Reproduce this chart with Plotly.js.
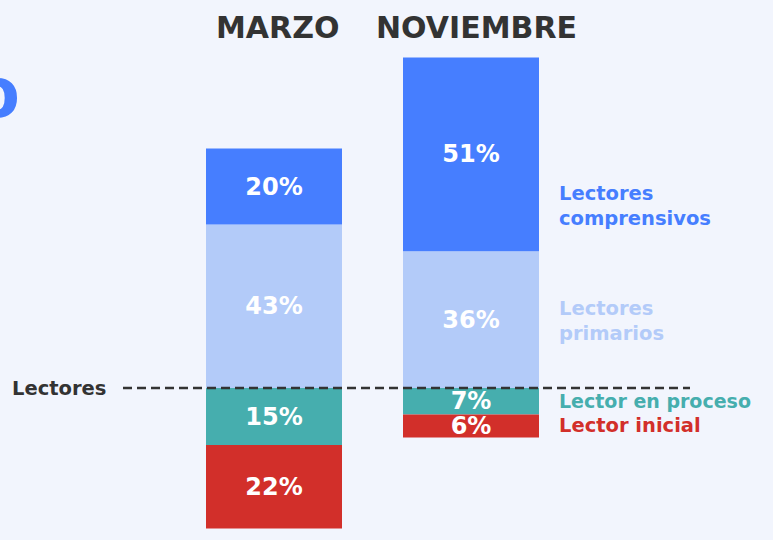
<!DOCTYPE html>
<html>
<head>
<meta charset="utf-8">
<script src="https://cdn.plot.ly/plotly-3.0.1.min.js"></script>
<style>
html,body{margin:0;padding:0;background:#f2f5fd;}
#chart{width:773px;height:540px;}
</style>
</head>
<body>
<div id="chart"></div>
<script>
// ---- data ----
const periods = ["MARZO", "NOVIEMBRE"];
const lectorEnProceso = [15, 7];      // below the "Lectores" line
const lectorInicial = [22, 6];        // below the "Lectores" line
const lectoresPrimarios = [43, 36];   // above the line
const lectoresComprensivos = [20, 51];// above the line
const seriesNames = ["Lector en proceso", "Lector inicial", "Lectores<br>primarios", "Lectores<br>comprensivos"];
const baselineLabel = "Lectores";

// ---- style ----
const W = 773, H = 540;
const FONT = "DejaVu Sans, sans-serif";
const colors = {
  proceso: "#46aeae",
  inicial: "#d22f2a",
  primarios: "#b3cbf9",
  comprensivos: "#467eff",
  dark: "#333333",
  bg: "#f2f5fd"
};
const baselinePx = 388, pxPerUnit = 3.8;
const yRange = [-(H - baselinePx) / pxPerUnit, baselinePx / pxPerUnit];
const cat0Px = 274, catStep = 197;
const xRange = [-cat0Px / catStep, (W - cat0Px) / catStep];
const barW = 136 / catStep;

const pct = arr => arr.map(v => v + "%");
function barTrace(vals, sign, color, name) {
  return {
    type: "bar",
    x: periods,
    y: vals.map(v => sign * v),
    name: name,
    width: periods.map(() => barW),
    marker: {color: color, line: {width: 0}},
    text: pct(vals),
    textposition: "inside",
    insidetextanchor: "middle",
    constraintext: "none",
    textangle: 0,
    textfont: {family: FONT, size: 24, color: "#ffffff", weight: "bold"},
    hoverinfo: "skip"
  };
}

const data = [
  barTrace(lectorEnProceso, -1, colors.proceso, seriesNames[0]),
  barTrace(lectorInicial, -1, colors.inicial, seriesNames[1]),
  barTrace(lectoresPrimarios, 1, colors.primarios, seriesNames[2]),
  barTrace(lectoresComprensivos, 1, colors.comprensivos, seriesNames[3])
];

const py = px => 1 - px / H;
const px2x = px => px / W;

const annotations = [
  // column headers
  {text: periods[0], x: periods[0], xref: "x", xshift: 3, y: py(27), yref: "paper", yanchor: "middle",
   showarrow: false, font: {family: FONT, size: 30, color: colors.dark, weight: "bold"}},
  {text: periods[1], x: periods[1], xref: "x", xshift: 5, y: py(27), yref: "paper", yanchor: "middle",
   showarrow: false, font: {family: FONT, size: 30, color: colors.dark, weight: "bold"}},
  // series labels on the right
  {text: seriesNames[3], x: px2x(557), xref: "paper", xanchor: "left", align: "left",
   y: py(206), yref: "paper", yanchor: "middle", showarrow: false,
   font: {family: FONT, size: 19.5, color: colors.comprensivos, weight: "bold"}},
  {text: seriesNames[2], x: px2x(557), xref: "paper", xanchor: "left", align: "left",
   y: py(321), yref: "paper", yanchor: "middle", showarrow: false,
   font: {family: FONT, size: 19.5, color: colors.primarios, weight: "bold"}},
  {text: seriesNames[0], x: px2x(557), xref: "paper", xanchor: "left", align: "left",
   y: py(401), yref: "paper", yanchor: "middle", showarrow: false,
   font: {family: FONT, size: 19, color: colors.proceso, weight: "bold"}},
  {text: seriesNames[1], x: px2x(557), xref: "paper", xanchor: "left", align: "left",
   y: py(425), yref: "paper", yanchor: "middle", showarrow: false,
   font: {family: FONT, size: 19.5, color: colors.inicial, weight: "bold"}},
  // baseline label
  {text: baselineLabel, x: px2x(10), xref: "paper", xanchor: "left",
   y: 0, yref: "y", yanchor: "middle", yshift: 0, showarrow: false,
   font: {family: FONT, size: 19.5, color: colors.dark, weight: "bold"}},
  // big cut-off percent sign at the left edge
  {text: "%", x: 0, xref: "paper", xanchor: "right", xshift: 22,
   y: py(82), yref: "paper", yanchor: "middle", showarrow: false,
   font: {family: FONT, size: 100, color: colors.comprensivos, weight: "bold"}}
];

const shapes = [
  {type: "line", xref: "paper", yref: "y", x0: px2x(123), x1: px2x(690), y0: 0, y1: 0,
   layer: "above", line: {color: colors.dark, width: 2.5, dash: "9px,5px"}}
];

const layout = {
  width: W, height: H,
  margin: {l: 0, r: 0, t: 0, b: 0, pad: 0},
  paper_bgcolor: colors.bg,
  plot_bgcolor: colors.bg,
  barmode: "relative",
  showlegend: false,
  xaxis: {range: xRange, visible: false, fixedrange: true},
  yaxis: {range: yRange, visible: false, fixedrange: true},
  annotations: annotations,
  shapes: shapes,
  font: {family: FONT}
};

Plotly.newPlot("chart", data, layout, {staticPlot: true, displayModeBar: false});
</script>
</body>
</html>
